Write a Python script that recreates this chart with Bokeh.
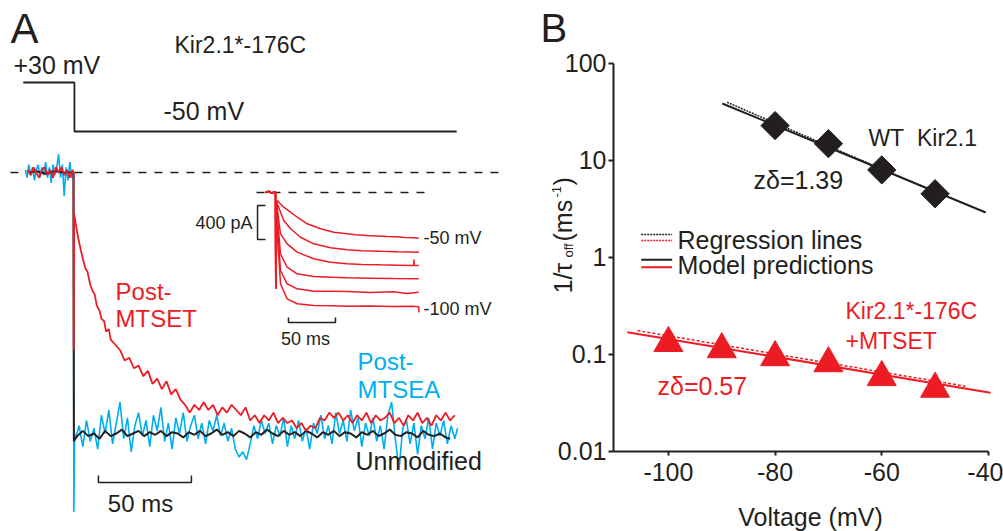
import numpy as np
from bokeh.plotting import figure
from bokeh.models import Range1d, Label, FixedTicker, CustomJSTickFormatter, LogAxis, LinearAxis
from bokeh.layouts import row
from bokeh.embed import file_html
from bokeh.resources import INLINE

# ---------------- data: panel A (time in ms from the step to -50 mV,
# current normalised to the Unmodified plateau) ----------------
mtset_t = [-24.7, -23.0, -21.5, -20.0, -18.5, -17.0, -15.5, -14.0, -12.5, -11.0, -9.5, -8.0, -6.5, -5.0,
           -3.5, -2.0, -0.5, 0.0, 0.1, 0.35, 1.5, 2.5, 4.0, 5.0, 6.5, 7.5, 9.0, 10.0, 11.5, 12.5, 14.0, 15.0,
           16.5, 17.5, 19.0, 20.0, 22.5, 25.0, 27.5, 30.0, 32.5, 35.0, 37.5, 40.0, 42.5, 45.0, 47.5,
           50.0, 52.5, 55.0, 57.5, 60.0, 62.5, 65.0, 67.5, 70.0, 72.5, 75.0, 77.5, 80.0, 82.5, 85.0,
           87.5, 90.0, 92.5, 95.0, 97.5, 100.0, 102.5, 105.0, 107.5, 110.0, 112.5, 115.0, 117.5, 120.0,
           122.5, 125.0, 127.5, 130.0, 132.5, 135.0, 137.5, 140.0, 142.5, 145.0, 147.5, 150.0, 152.5,
           155.0, 157.5, 160.0, 162.5, 165.0, 167.5, 170.0, 172.5, 175.0, 177.5, 180.0, 182.5, 185.0,
           187.5, 190.0, 192.5, 195.0, 197.5, 200.0, 202.5, 205.0]
mtset_i = [0.01, -0.01, 0.02, 0.0, -0.02, 0.01, 0.02, -0.01, 0.01, -0.02, 0.02, 0.0, 0.02, -0.01,
           0.01, -0.02, 0.01, 0.0, -0.68, -0.16, -0.21, -0.25, -0.30, -0.33, -0.37, -0.38, -0.43, -0.45,
           -0.47, -0.51, -0.53, -0.56, -0.57, -0.61, -0.60, -0.64, -0.66, -0.68, -0.72, -0.71, -0.75,
           -0.74, -0.78, -0.76, -0.81, -0.79, -0.83, -0.80, -0.85, -0.83, -0.87, -0.89, -0.92, -0.89,
           -0.91, -0.88, -0.91, -0.89, -0.93, -0.90, -0.92, -0.89, -0.91, -0.93, -0.90, -0.95, -0.93,
           -0.96, -0.93, -0.95, -0.92, -0.96, -0.94, -0.96, -0.95, -0.98, -0.96, -0.99, -0.97, -0.98,
           -0.94, -0.95, -0.92, -0.94, -0.92, -0.95, -0.93, -0.96, -0.93, -0.95, -0.92, -0.96, -0.93,
           -0.95, -0.94, -0.92, -0.96, -0.94, -0.97, -0.93, -0.95, -0.92, -0.96, -0.94, -0.97, -0.93,
           -0.95, -0.92, -0.95, -0.93]

mtsea_t = [-25.8, -25.0, -24.0, -23.0, -22.0, -21.0, -20.0, -19.0, -18.0, -17.0, -16.0, -15.0, -14.0,
           -13.0, -12.0, -11.0, -10.0, -9.0, -8.0, -7.0, -6.0, -5.0, -4.0, -3.0, -2.0, -1.0, 0.0, 0.2,
           0.6, 1, 3, 5, 7, 9, 11, 13, 15, 17, 19, 21, 23, 25, 27, 29, 31, 33, 35, 37, 39, 41, 43, 45, 47,
           49, 51, 53, 55, 57, 59, 61, 63, 65, 67, 69, 71, 73, 75, 77, 79, 81, 83, 85, 87, 89, 91, 93, 95,
           97, 99, 101, 103, 105, 107, 109, 111, 113, 115, 117, 119, 121, 123, 125, 127, 129, 131, 133,
           135, 137, 139, 141, 143, 145, 147, 149, 151, 153, 155, 157, 159, 161, 163, 165, 167, 169, 171,
           173, 175, 177, 179, 181, 183, 185, 187, 189, 191, 193, 195, 197, 199, 201, 203, 205, 206.5]
mtsea_i = [0.01, -0.02, 0.03, -0.01, 0.02, -0.03, 0.01, 0.03, -0.02, 0.02, -0.01, 0.04, -0.02, 0.02,
           -0.04, 0.03, -0.01, 0.02, 0.07, -0.02, 0.03, -0.09, 0.02, -0.03, 0.04, -0.02, 0.0, -1.30,
           -1.0, -1.02, -0.97, -1.05, -0.95, -1.03, -0.98, -1.06, -0.93, -1.0, -0.91, -1.04, -0.96,
           -0.88, -1.02, -0.94, -1.07, -0.97, -0.92, -1.01, -0.95, -1.05, -0.93, -0.99, -0.90, -1.03,
           -0.96, -1.06, -0.94, -1.0, -0.92, -1.03, -0.97, -0.93, -1.02, -0.96, -1.04, -0.95, -0.99,
           -0.93, -1.01, -0.96, -1.03, -0.98, -1.06, -1.09, -1.07, -1.10, -1.04, -0.97, -1.02, -0.95,
           -1.0, -0.96, -1.04, -0.97, -1.01, -0.94, -1.05, -0.97, -1.02, -0.95, -1.03, -0.98, -1.06,
           -0.96, -1.0, -0.93, -1.02, -0.97, -1.04, -0.92, -1.0, -0.95, -1.03, -0.91, -0.99, -0.94,
           -1.05, -0.96, -1.01, -0.94, -1.03, -0.97, -1.06, -0.93, -0.88, -1.02, -1.14, -0.98, -0.95,
           -1.04, -0.96, -1.08, -0.97, -1.02, -0.94, -1.06, -0.96, -1.01, -0.95, -1.04, -0.97, -1.02,
           -0.98]

unmod_t = [-24.0, -20.0, -15.0, -10.0, -5.0, 0.0, 0.2, 1.0, 2, 5, 8, 11, 14, 17, 20, 23, 26, 29, 32,
           35, 38, 41, 44, 47, 50, 53, 56, 59, 62, 65, 68, 71, 74, 77, 80, 83, 86, 89, 92, 95, 98, 101,
           104, 107, 110, 113, 116, 119, 122, 125, 128, 131, 134, 137, 140, 143, 146, 149, 152, 155,
           158, 161, 164, 167, 170, 173, 176, 179, 182, 185, 188, 191, 194, 197, 200, 202.5]
unmod_i = [0.0, 0.005, -0.005, 0.005, 0.0, 0.0, -1.03, -1.02, -1.01, -0.99, -1.01, -1.00, -1.02,
           -0.99, -1.01, -1.00, -0.985, -1.01, -1.00, -0.99, -1.01, -0.995, -1.005, -0.99, -1.01,
           -0.995, -1.0, -1.015, -0.995, -1.005, -0.99, -1.01, -1.0, -0.985, -1.005, -0.995, -1.01,
           -0.99, -1.0, -1.015, -0.995, -1.005, -0.985, -1.0, -1.01, -0.99, -1.005, -0.995, -1.01,
           -0.99, -1.0, -1.015, -0.995, -1.005, -0.99, -1.01, -0.995, -1.0, -1.015, -0.995, -1.005,
           -0.99, -1.01, -1.0, -0.985, -1.005, -1.01, -0.995, -1.0, -1.015, -0.99, -1.005, -1.01,
           -1.0, -1.015, -1.02]

protocol_t = [-27, 0.5, 0.5, 206]
protocol_mv = [30, 30, -50, -50]

# inset: currents (pA) at -50 ... -100 mV
inset_labels = ["-50 mV", "-60 mV", "-70 mV", "-80 mV", "-90 mV", "-100 mV"]
inset_t = [
    [-10.6, -7, -4, -1, 0, 0.3, 1.8, 8.8, 16.0, 23.1, 33.7, 47.9, 62.0, 76.3, 85, 97.6, 108, 118.9, 128, 138, 147.1, 152.4],
    [-10.6, -7, -4, -1, 0, 0.3, 1.8, 8.8, 16.0, 26.6, 40.7, 58.5, 76.3, 92, 111.7, 130, 152.4],
    [-10.6, -7, -4, -1, 0, 0.3, 1.5, 5.3, 12.4, 23.1, 40.7, 58.5, 76.3, 92, 111.7, 130, 147, 147.3, 147.6, 152.4],
    [-10.6, -7, -4, -1, 0, 0.3, 1.3, 5.3, 12.4, 23.1, 40.7, 60, 76.3, 100, 125, 152.4],
    [-10.6, -7, -4, -1, 0, 0.3, 1.2, 5.3, 12.4, 23.1, 40.7, 60, 76.3, 100, 125, 140, 152.4],
    [-10.6, -7, -4, -1, 0, 0.3, 1.1, 5.3, 12.4, 23.1, 40.7, 60, 76.3, 100, 125, 145, 152.4, 152.6],
]
inset_i = [
    [0, 15, -10, 10, 0, -1129, -94, -173, -232, -291, -368, -427, -467, -486, -498, -506, -512, -518, -522, -530, -533, -538],
    [0, 15, -10, 10, 0, -1129, -130, -329, -427, -526, -604, -651, -674, -684, -691, -697, -702],
    [0, 15, -10, 10, 0, -1129, -150, -486, -604, -702, -780, -820, -839, -846, -851, -855, -859, -790, -859, -859],
    [0, 15, -10, 10, 0, -1129, -200, -721, -879, -956, -988, -998, -1004, -1008, -1012, -1015],
    [0, 15, -10, 10, 0, -1129, -250, -918, -1074, -1133, -1161, -1163, -1165, -1175, -1168, -1188, -1173],
    [0, 15, -10, 10, 0, -1129, -300, -1074, -1251, -1309, -1329, -1333, -1338, -1336, -1341, -1338, -1345, -1410],
]

# ---------------- data: panel B ----------------
wt_v = [-80, -70, -60, -50]
wt_rate = [22.9, 14.9, 8.0, 4.54]
mut_v = [-100, -90, -80, -70, -60, -50]
mut_rate = [0.131, 0.113, 0.0935, 0.081, 0.0583, 0.0442]
wt_model_v = [-89.9, -40.5]
wt_model_rate = [38.7, 2.91]
wt_regr_v = [-89.0, -50.0]
wt_regr_rate = [39.8, 4.73]
mut_model_v = [-107.7, -39.6]
mut_model_rate = [0.170, 0.0403]
mut_regr_v = [-105.8, -44.3]
mut_regr_rate = [0.1766, 0.0471]
y_tick_values = [0.01, 0.1, 1, 10, 100]
y_tick_labels = ["0.01", "0.1", "1", "10", "100"]
x_tick_values = [-100, -80, -60, -40]
x_tick_labels = ["-100", "-80", "-60", "-40"]
x_axis_bounds = (-110.3, -40.0)
y_axis_bounds = (0.01, 100.0)

FONT = "Liberation Sans"
RED = "#ed1c24"
CYAN = "#00aeef"
BLACK = "#231f20"


def lab(p, x, y, text, size, color=BLACK, align="left", baseline="middle", angle=0, **kw):
    p.add_layout(Label(x=x, y=y, text=text, text_font=FONT, text_font_size=size, text_color=color,
                       text_align=align, text_baseline=baseline, angle=angle, **kw))


# ---------------- panel A ----------------
pA = figure(width=538, height=531, x_range=Range1d(-39.25, 250.0), y_range=Range1d(-1.3755, 0.659),
            x_axis_location=None, y_axis_location=None, toolbar_location=None, output_backend="svg",
            min_border=0, outline_line_color=None, title=None)
pA.min_border_left = pA.min_border_right = pA.min_border_top = pA.min_border_bottom = 0
pA.extra_y_ranges = {"vm": Range1d(-703.1, 163.9), "ipa": Range1d(-3988.2, 2258.8)}
pA.extra_x_ranges = {"tin": Range1d(-292.55, 279.8)}
pA.grid.grid_line_color = None

# voltage protocol
pA.line(protocol_t, protocol_mv, y_range_name="vm", line_color=BLACK, line_width=1.8)
# zero-current line
pA.line([-33.9, 229.6], [0, 0], line_color=BLACK, line_width=1.5, line_dash="8 8")
# traces
pA.line(mtsea_t, mtsea_i, line_color=CYAN, line_width=1.6)
pA.line(unmod_t, unmod_i, line_color=BLACK, line_width=2.0)
pA.line(mtset_t, mtset_i, line_color=RED, line_width=1.8)
# scale bar 50 ms
pA.line([13.4, 13.4, 63.4, 63.4], [-1.161, -1.188, -1.188, -1.161], line_color=BLACK, line_width=1.5)

# inset
pA.line([-20.2, 165.0], [0, 0], x_range_name="tin", y_range_name="ipa", line_color=BLACK,
        line_width=1.5, line_dash="8 8")
for ts, cs in zip(inset_t, inset_i):
    pA.line(ts, cs, x_range_name="tin", y_range_name="ipa", line_color=RED, line_width=1.5)
pA.line([-10.6, -19.1, -19.1, -10.6], [-153, -153, -553, -553], x_range_name="tin", y_range_name="ipa",
        line_color=BLACK, line_width=1.5)
pA.line([13.8, 13.8, 63.8, 63.8], [-1471, -1529, -1529, -1471], x_range_name="tin", y_range_name="ipa",
        line_color=BLACK, line_width=1.5)

lab(pA, -33.9, 0.552, "A", "42px")
lab(pA, 54.3, 0.487, "Kir2.1*-176C", "23px")
lab(pA, -32.3, 0.41, "+30 mV", "25px")
lab(pA, 48.4, 0.2375, "-50 mV", "25px")
lab(pA, 22.6, -0.456, "Post-", "24px", RED)
lab(pA, 22.6, -0.559, "MTSET", "24px", RED)
lab(pA, 152.7, -0.724, "Post-", "24px", CYAN)
lab(pA, 152.7, -0.831, "MTSEA", "24px", CYAN)
lab(pA, 151.6, -1.107, "Unmodified", "25px")
lab(pA, 36.0, -1.268, "50 ms", "24px", align="center")
lab(pA, -24.5, -353, "400 pA", "18px", align="right", x_range_name="tin", y_range_name="ipa")
lab(pA, 157.4, -541, inset_labels[0], "18px", x_range_name="tin", y_range_name="ipa")
lab(pA, 157.4, -1365, inset_labels[-1], "18px", x_range_name="tin", y_range_name="ipa")
lab(pA, 31.9, -1718, "50 ms", "18px", align="center", x_range_name="tin", y_range_name="ipa")

# ---------------- panel B ----------------
pB = figure(width=465, height=531, y_axis_type="log", x_axis_location=None, y_axis_location=None,
            x_range=Range1d(-124.36, -37.17), y_range=Range1d(0.001497, 446.1),
            toolbar_location=None, output_backend="svg", min_border=0,
            outline_line_color=None, title=None)
pB.min_border_left = pB.min_border_right = pB.min_border_top = pB.min_border_bottom = 0
pB.grid.grid_line_color = None

yax = LogAxis(fixed_location=x_axis_bounds[0], bounds=y_axis_bounds,
              ticker=FixedTicker(ticks=y_tick_values),
              formatter=CustomJSTickFormatter(args=dict(vals=y_tick_values, labels=y_tick_labels), code="""
    for (let i = 0; i < vals.length; i++) { if (Math.abs(Math.log10(vals[i]) - Math.log10(tick)) < 1e-6) return labels[i]; }
    return "";
"""))
xax = LinearAxis(fixed_location=y_axis_bounds[0], bounds=x_axis_bounds,
                 ticker=FixedTicker(ticks=x_tick_values),
                 formatter=CustomJSTickFormatter(args=dict(vals=x_tick_values, labels=x_tick_labels), code="""
    for (let i = 0; i < vals.length; i++) { if (Math.abs(vals[i] - tick) < 1e-6) return labels[i]; }
    return "";
"""))
for ax in (xax, yax):
    ax.axis_line_width = 2
    ax.axis_line_color = BLACK
    ax.major_tick_line_width = 2
    ax.major_tick_line_color = BLACK
    ax.minor_tick_line_color = None
    ax.major_tick_in = 0
    ax.major_label_text_font = FONT
    ax.major_label_text_font_size = "25px"
    ax.major_label_text_color = BLACK
yax.major_tick_out = 5
yax.major_label_standoff = 2
xax.major_tick_out = 4
xax.major_label_standoff = 8
pB.add_layout(yax, "left")
pB.add_layout(xax, "below")

pB.line(wt_regr_v, wt_regr_rate, line_color=BLACK, line_width=1.5, line_dash="2 1")
pB.line(wt_model_v, wt_model_rate, line_color=BLACK, line_width=2)
pB.line(mut_regr_v, mut_regr_rate, line_color=RED, line_width=1.5, line_dash="3 2")
pB.line(mut_model_v, mut_model_rate, line_color=RED, line_width=2)
pB.scatter(wt_v, wt_rate, marker="square", angle=np.pi / 4, size=20, fill_color=BLACK, line_color=BLACK)
pB.scatter(mut_v, mut_rate, marker="triangle", size=29, fill_color=RED, line_color=RED)

# legend swatches
pB.line([-105.1, -99.3], [1.726, 1.726], line_color=BLACK, line_width=1.5, line_dash="2 1")
pB.line([-105.1, -99.3], [1.496, 1.496], line_color=RED, line_width=1.5, line_dash="2 1")
pB.line([-105.1, -99.3], [0.947, 0.947], line_color=BLACK, line_width=2)
pB.line([-105.1, -99.3], [0.794, 0.794], line_color=RED, line_width=2)
lab(pB, -98.3, 1.50, "Regression lines", "25px")
lab(pB, -98.3, 0.827, "Model predictions", "25px")

lab(pB, -124.0, 229.6, "B", "40px")
lab(pB, -62.5, 16.9, "WT\u00a0\u00a0Kir2.1", "23px")
lab(pB, -84.05, 6.22, "zδ=1.39", "25px")
lab(pB, -66.8, 0.284, "Kir2.1*-176C", "23px", RED)
lab(pB, -66.8, 0.139, "+MTSET", "23px", RED)
lab(pB, -102.05, 0.0479, "zδ=0.57", "25px", RED)
lab(pB, -73.36, 0.002088, "Voltage (mV)", "25px", align="center")

# y-axis label: 1/τ_off (ms^-1), rotated
rot = np.pi / 2
lab(pB, -119.68, 0.4256, "1/τ", "25px", baseline="alphabetic", angle=rot)
lab(pB, -118.74, 1.0, "off", "13px", baseline="alphabetic", angle=rot)
lab(pB, -119.68, 1.462, "(ms", "25px", baseline="alphabetic", angle=rot)
lab(pB, -120.99, 4.156, "-1", "13px", baseline="alphabetic", angle=rot)
lab(pB, -119.68, 5.52, ")", "25px", baseline="alphabetic", angle=rot)

layout = row(pA, pB)
open("out.html", "w").write(file_html(layout, INLINE))
